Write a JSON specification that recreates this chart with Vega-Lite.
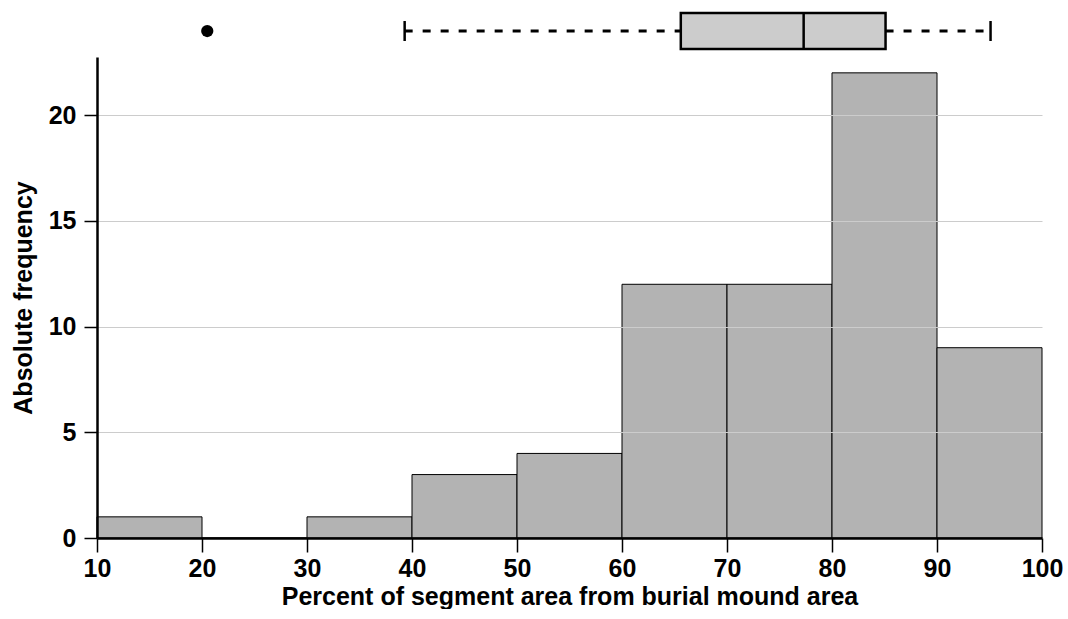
{
  "$schema": "https://vega.github.io/schema/vega-lite/v6.json",
  "padding": {"left": 11, "top": 0, "right": 0, "bottom": 0},
  "background": "white",
  "bounds": "flush",
  "spacing": 0,
  "resolve": {"scale": {"y": "independent", "x": "shared"}},
  "config": {
    "font": "Liberation Sans",
    "view": {"stroke": null}
  },
  "datasets": {
    "bins": [
      {"bin_start": 10, "bin_end": 20, "count": 1},
      {"bin_start": 20, "bin_end": 30, "count": 0},
      {"bin_start": 30, "bin_end": 40, "count": 1},
      {"bin_start": 40, "bin_end": 50, "count": 3},
      {"bin_start": 50, "bin_end": 60, "count": 4},
      {"bin_start": 60, "bin_end": 70, "count": 12},
      {"bin_start": 70, "bin_end": 80, "count": 12},
      {"bin_start": 80, "bin_end": 90, "count": 22},
      {"bin_start": 90, "bin_end": 100, "count": 9}
    ],
    "box": [
      {"lower": 39.3, "q1": 65.6, "median": 77.3, "q3": 85.1, "upper": 95.1}
    ],
    "outliers": [
      {"value": 20.5}
    ]
  },
  "vconcat": [
    {
      "width": 945,
      "height": 57,
      "layer": [
        {
          "data": {"name": "box"},
          "mark": {"type": "rule", "stroke": "black", "strokeWidth": 3, "strokeDash": [8, 10]},
          "encoding": {
            "x": {"field": "lower", "type": "quantitative", "scale": {"domain": [10, 100], "nice": false, "zero": false, "padding": 0}, "axis": null},
            "x2": {"field": "q1"},
            "y": {"datum": "box", "type": "nominal", "axis": null, "scale": {"paddingInner": 0, "paddingOuter": 0.2917, "align": 0.62}}
          }
        },
        {
          "data": {"name": "box"},
          "mark": {"type": "rule", "stroke": "black", "strokeWidth": 3, "strokeDash": [8, 10]},
          "encoding": {
            "x": {"field": "q3", "type": "quantitative"},
            "x2": {"field": "upper"},
            "y": {"datum": "box", "type": "nominal"}
          }
        },
        {
          "data": {"name": "box"},
          "mark": {"type": "bar", "fill": "#cccccc", "stroke": "black", "strokeWidth": 2.5},
          "encoding": {
            "x": {"field": "q1", "type": "quantitative"},
            "x2": {"field": "q3"},
            "y": {"datum": "box", "type": "nominal"}
          }
        },
        {
          "data": {"name": "box"},
          "mark": {"type": "tick", "orient": "vertical", "color": "black", "size": 36, "thickness": 2.5, "opacity": 1},
          "encoding": {
            "x": {"field": "median", "type": "quantitative"},
            "y": {"datum": "box", "type": "nominal"}
          }
        },
        {
          "data": {"name": "box"},
          "mark": {"type": "tick", "orient": "vertical", "color": "black", "size": 20, "thickness": 2.5, "opacity": 1},
          "encoding": {
            "x": {"field": "lower", "type": "quantitative"},
            "y": {"datum": "box", "type": "nominal"}
          }
        },
        {
          "data": {"name": "box"},
          "mark": {"type": "tick", "orient": "vertical", "color": "black", "size": 20, "thickness": 2.5, "opacity": 1},
          "encoding": {
            "x": {"field": "upper", "type": "quantitative"},
            "y": {"datum": "box", "type": "nominal"}
          }
        },
        {
          "data": {"name": "outliers"},
          "mark": {"type": "point", "filled": true, "color": "black", "size": 150, "opacity": 1},
          "encoding": {
            "x": {"field": "value", "type": "quantitative"},
            "y": {"datum": "box", "type": "nominal"}
          }
        }
      ]
    },
    {
      "width": 945,
      "height": 481,
      "data": {"name": "bins"},
      "mark": {"type": "bar", "orient": "vertical", "fill": "#b3b3b3", "stroke": "black", "strokeWidth": 1},
      "encoding": {
        "x": {
          "field": "bin_start",
          "type": "quantitative",
          "scale": {"domain": [10, 100], "nice": false, "zero": false, "padding": 0},
          "axis": {
            "title": "Percent of segment area from burial mound area",
            "values": [10, 20, 30, 40, 50, 60, 70, 80, 90, 100],
            "grid": false,
            "domainColor": "black",
            "domainWidth": 2.5,
            "tickColor": "black",
            "tickWidth": 1.5,
            "tickSize": 14,
            "labelPadding": 4,
            "labelFontSize": 25,
            "labelFontWeight": "bold",
            "labelColor": "black",
            "labelFlush": false,
            "titleFontSize": 25,
            "titleFontWeight": "bold",
            "titleColor": "black",
            "titlePadding": 3,
            "zindex": 1
          }
        },
        "x2": {"field": "bin_end"},
        "y": {
          "field": "count",
          "type": "quantitative",
          "scale": {"domain": [0, 22.75], "nice": false},
          "axis": {
            "title": "Absolute frequency",
            "values": [0, 5, 10, 15, 20],
            "grid": true,
            "gridColor": "#cccccc",
            "gridWidth": 1,
            "domainColor": "black",
            "domainWidth": 2.5,
            "tickColor": "black",
            "tickWidth": 1.5,
            "tickSize": 13,
            "labelPadding": 8,
            "labelFontSize": 25,
            "labelFontWeight": "bold",
            "labelColor": "black",
            "labelFlush": false,
            "minExtent": 57,
            "maxExtent": 57,
            "titleFontSize": 25,
            "titleFontWeight": "bold",
            "titleColor": "black",
            "titlePadding": 4,
            "zindex": 1
          }
        },
        "y2": {"datum": 0}
      }
    }
  ]
}
